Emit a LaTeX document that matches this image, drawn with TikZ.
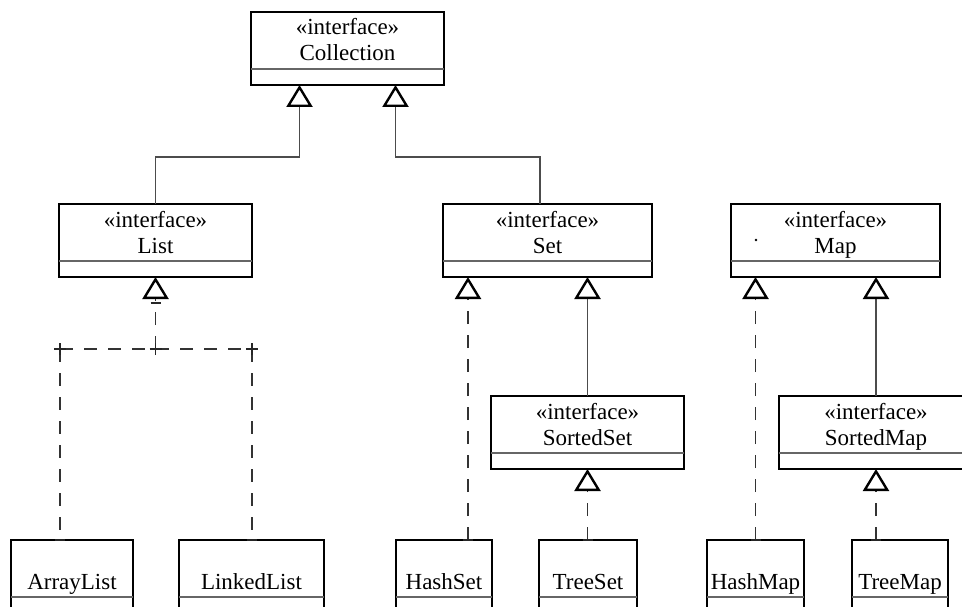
\documentclass[tikz,border=0pt]{standalone}
\usepackage{fontspec}
\setmainfont{Liberation Serif}
\usetikzlibrary{arrows.meta,calc}

\tikzset{
  classframe/.style={draw=black, line width=1.2pt, rectangle, inner sep=0pt,
    outer sep=0pt, minimum height=73pt, anchor=north west},
  compline/.style={draw=black!60, line width=1.2pt},
  lbl/.style={inner sep=0pt, anchor=base, font=\fontsize{23}{26}\selectfont},
  inherit/.style={draw=black!70, line width=1.3pt,
    -{Triangle[open, length=22pt, width=26pt, line width=2.4pt, color=black]}},
  realize/.style={inherit, draw=black!80, dash pattern=on 13pt off 11pt},
  dashlink/.style={draw=black!80, line width=1.3pt, dash pattern=on 13pt off 11pt},
  tickline/.style={draw=black!85, line width=1.5pt},
}

% class with a stereotype line, a name line and an empty compartment
\newcommand\classbox[6]{%
  \pgfmathsetmacro\cbw{#3-#2}%
  \node[classframe, minimum width=\cbw pt] (#1) at (#2,#4) {};
  \draw[compline] ([yshift=16pt]#1.south west) -- ([yshift=16pt]#1.south east);
  \node[lbl] (#1-st) at ([yshift=-23pt]#1.north) {#5};
  \node[lbl] (#1-nm) at ([yshift=-49pt]#1.north) {#6};
}
% concrete class: name on the second line only
\newcommand\implbox[5]{%
  \pgfmathsetmacro\cbw{#3-#2}%
  \node[classframe, minimum width=\cbw pt] (#1) at (#2,#4) {};
  \draw[compline] ([yshift=16pt]#1.south west) -- ([yshift=16pt]#1.south east);
  \node[lbl] (#1-nm) at ([yshift=-49pt]#1.north) {#5};
}
\newcommand\linktick[1]{\draw[tickline] ([xshift=-5pt]#1) -- ([xshift=5pt]#1);}
\newcommand\crossat[1]{%
  \draw[tickline] ([xshift=-6pt]#1) -- ([xshift=6pt]#1);
  \draw[tickline] ([yshift=-6pt]#1) -- ([yshift=6pt]#1);}

\begin{document}
\begin{tikzpicture}[x=1pt, y=-1pt]
\useasboundingbox (0,0) rectangle (962,607);
\clip (0,0) rectangle (962,607);

% interfaces
\classbox{Collection}{251}{444}{12}{«interface»}{Collection}
\classbox{List}{59}{252}{204}{«interface»}{List}
\classbox{Set}{443}{652}{204}{«interface»}{Set}
\classbox{Map}{731}{940}{204}{«interface»}{Map}
\classbox{SortedSet}{491}{684}{396}{«interface»}{SortedSet}
\classbox{SortedMap}{779}{973}{396}{«interface»}{SortedMap}
\fill ([xshift=-79.5pt,yshift=-36pt]Map.north) circle (1.4pt);

% implementations
\implbox{ArrayList}{11}{133}{540}{ArrayList}
\implbox{LinkedList}{179}{324}{540}{LinkedList}
\implbox{HashSet}{396}{492}{540}{HashSet}
\implbox{TreeSet}{539}{637}{540}{TreeSet}
\implbox{HashMap}{707}{804}{540}{HashMap}
\implbox{TreeMap}{852}{948}{540}{TreeMap}

% interface inheritance
\coordinate (colL) at ([xshift=-48pt]Collection.south);
\coordinate (colR) at ([xshift=48pt]Collection.south);
\coordinate (setTop) at ([xshift=-7.5pt]Set.north);
\draw[inherit] (List.north) |- ([yshift=-72pt]colL) -- (colL);
\draw[inherit] (setTop) |- ([yshift=-72pt]colR) -- (colR);
\draw[inherit] (SortedSet.north) -- (SortedSet.north |- Set.south);
\draw[inherit] (SortedMap.north) -- (SortedMap.north |- Map.south);

% List realizations through a shared junction
\coordinate (jM) at ([yshift=-72pt]List.south);
\coordinate (jTip) at ([yshift=-26pt]List.south);
\coordinate (jA) at ([xshift=49pt]ArrayList.north west |- jM);
\coordinate (jB) at ([xshift=73pt]LinkedList.north west |- jM);
\coordinate (aTop) at (jA |- ArrayList.north);
\coordinate (bTop) at (jB |- LinkedList.north);
\draw[realize] (jM) -- (List.south);
\draw[dashlink] (jA) -- (jB);
\draw[dashlink] (jA) -- (aTop);
\draw[dashlink] (jB) -- (bTop);
\linktick{jTip}
\crossat{jA}
\crossat{jM}
\crossat{jB}
\linktick{aTop}
\linktick{bTop}

% Set and Map realizations
\coordinate (hsUp) at ([xshift=25pt]Set.south west);
\coordinate (hsTop) at (hsUp |- HashSet.north);
\draw[realize] (hsTop) -- (hsUp);
\linktick{hsTop}
\coordinate (tsTop) at (SortedSet.south |- TreeSet.north);
\draw[realize] (tsTop) -- (SortedSet.south);
\linktick{tsTop}
\draw[realize] (HashMap.north) -- (HashMap.north |- Map.south);
\linktick{HashMap.north}
\coordinate (tmTop) at (SortedMap.south |- TreeMap.north);
\draw[realize] (tmTop) -- (SortedMap.south);
\linktick{tmTop}
\end{tikzpicture}
\end{document}
